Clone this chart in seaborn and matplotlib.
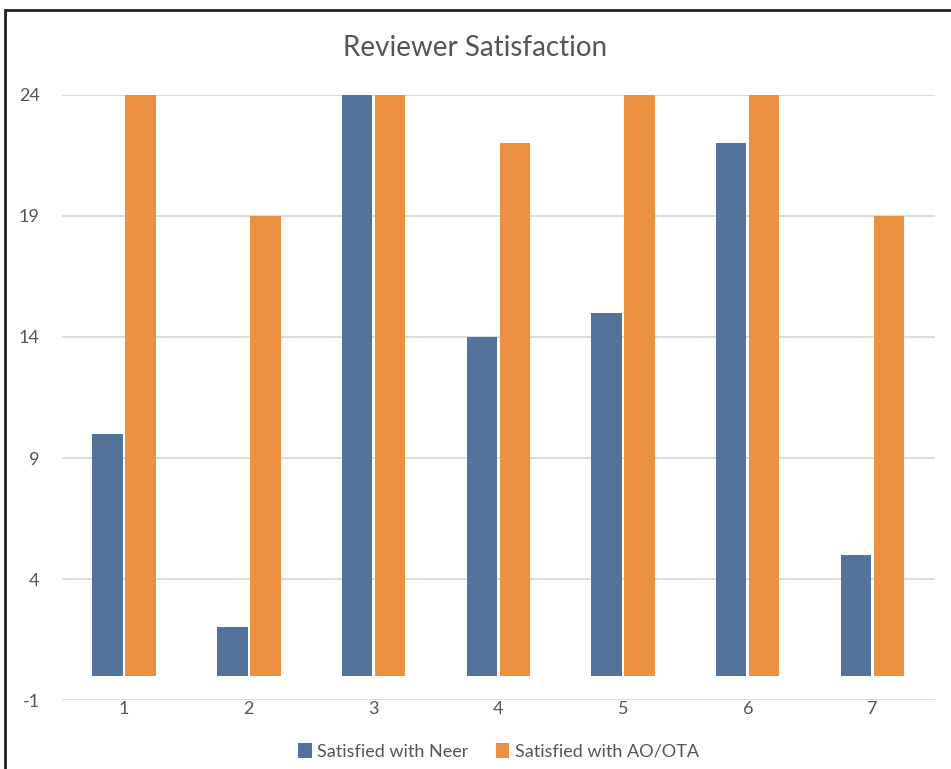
import pandas as pd
import numpy as np
import matplotlib.pyplot as plt
import seaborn as sns
from matplotlib.patches import Rectangle

# valores
categorias = ['1', '2', '3', '4', '5', '6', '7']
neer = [10, 2, 24, 14, 15, 22, 5]
ao_ota = [24, 19, 24, 22, 24, 24, 19]
series = ['Satisfied with Neer', 'Satisfied with AO/OTA']
ticks_y = [-1, 4, 9, 14, 19, 24]

base = pd.DataFrame({
    'cat': categorias * 2,
    'valor': neer + ao_ota,
    'serie': [series[0]] * 7 + [series[1]] * 7,
})

sns.set_style('white')
plt.rcParams['font.family'] = ['Lato', 'DejaVu Sans']
plt.rcParams['axes.unicode_minus'] = False

fig = plt.figure(figsize=(9.51, 7.69), dpi=100)
ax = fig.add_axes([0.065, 0.0897, 0.918, 0.7868])

sns.barplot(data=base, x='cat', y='valor', hue='serie', order=categorias,
            hue_order=series, palette=['#54739B', '#EC9141'],
            width=0.53, gap=0.08, saturation=1, linewidth=0, ax=ax)

ax.set_ylim(-1, 24)
ax.set_yticks(ticks_y)
ax.set_xlim(-0.5, 6.5)
ax.grid(axis='y', color='#d6d6d6', linewidth=1.2)
ax.set_axisbelow(True)
for s in ax.spines.values():
    s.set_visible(False)
ax.tick_params(axis='both', length=0, labelsize=13, colors='#555555')
ax.tick_params(axis='x', pad=1)
ax.tick_params(axis='y', pad=16)
ax.set_xlabel('')
ax.set_ylabel('')

fig.text(0.5, 0.938, 'Reviewer Satisfaction', ha='center', va='center',
         fontsize=20, color='#555555')

ax.legend(loc='center', bbox_to_anchor=(0.5, -0.085), ncol=2, frameon=False,
          fontsize=13, labelcolor='#555555', handlelength=0.75, handleheight=0.9,
          handletextpad=0.3, columnspacing=1.5)

# moldura preta da imagem original
fig.patches.append(Rectangle((5 / 951, -0.05), 1.2, 1.05 - 10 / 769,
                             transform=fig.transFigure, fill=False,
                             edgecolor='#222222', linewidth=2))

fig.savefig('out.png', dpi=100)
